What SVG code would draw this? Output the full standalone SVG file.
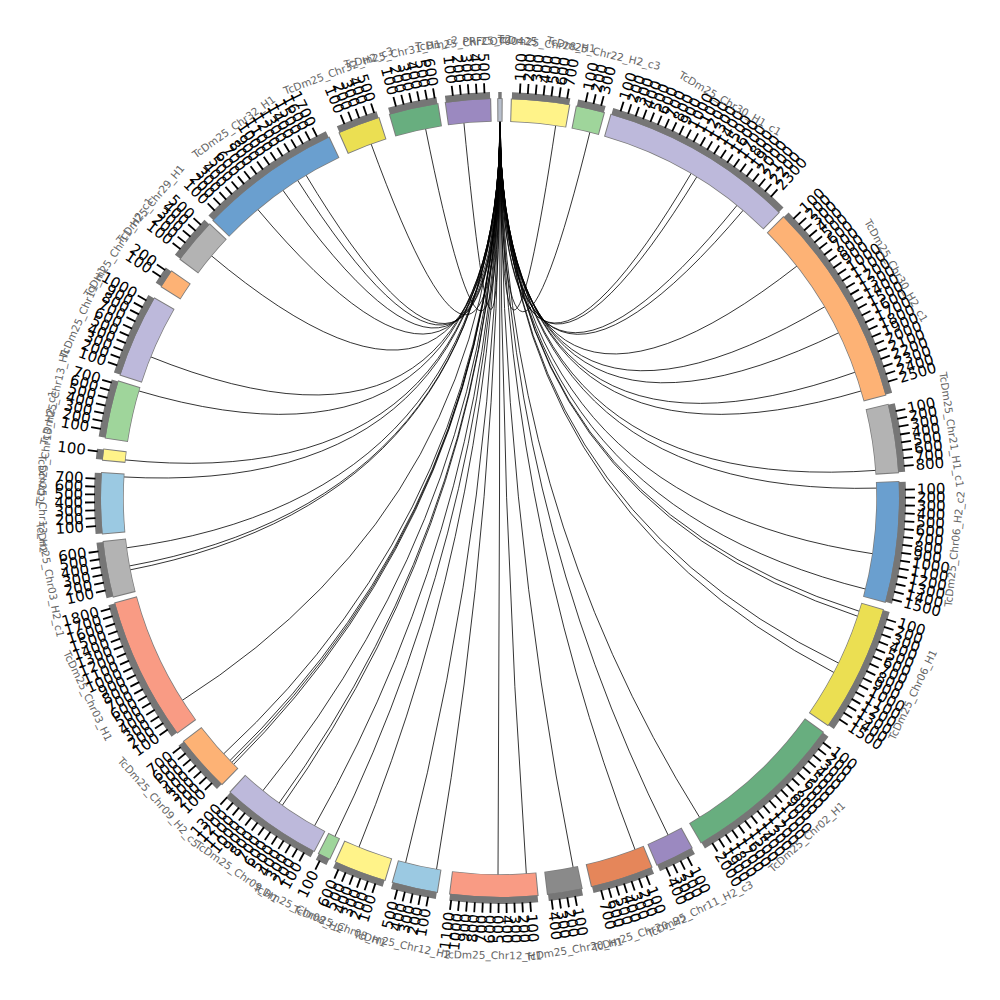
<svg xmlns="http://www.w3.org/2000/svg" xmlns:xlink="http://www.w3.org/1999/xlink" width="1000" height="1000" viewBox="0 0 1000 1000">
<defs>
<style>
circle{fill:none}
.o{stroke:#7d7d7d;stroke-width:23.5}
.c{stroke-width:22}
.b{stroke:#767676;stroke-width:7}
text.r,text.l{font-family:"DejaVu Sans","Liberation Sans",sans-serif;font-size:15px;fill:#000;dominant-baseline:central}
text.r{transform:translate(500px,81px) rotate(-90deg);text-anchor:start}
text.l{transform:translate(500px,81px) rotate(90deg);text-anchor:end}
.n{font-family:"DejaVu Sans","Liberation Sans",sans-serif;font-size:10.5px;fill:#666;text-anchor:middle;dominant-baseline:central}
#links path{fill:none;stroke:#000;stroke-width:.8}
</style>
<line id="t" x1="500" y1="93" x2="500" y2="83" stroke="#000" stroke-width="1.8"/>
</defs>
<rect width="1000" height="1000" fill="#fff"/>

<g id="links">
<path d="M500 120Q500 498 555.9 124.2" stroke="#4f7fa0"/>
<path d="M500 120Q500 498 590.2 130.9" stroke="#8a8a2a"/>
<path d="M500 120Q500 498 691.8 172.3"/>
<path d="M500 120Q500 498 697.5 175.7" stroke="#3a6a3a"/>
<path d="M500 120Q500 498 737.9 204.3"/>
<path d="M500 120Q500 498 744 209.3"/>
<path d="M500 120Q500 498 797.9 265.3"/>
<path d="M500 120Q500 498 825.7 306.2"/>
<path d="M500 120Q500 498 839.7 332.3" stroke="#4a5a70"/>
<path d="M500 120Q500 498 856.3 371.8"/>
<path d="M500 120Q500 498 862.4 390.6"/>
<path d="M500 120Q500 498 877 470.3" stroke="#7a4a2a"/>
<path d="M500 120Q500 498 877.9 488.1" stroke="#333"/>
<path d="M500 120Q500 498 873.8 553.9"/>
<path d="M500 120Q500 498 866.8 589.4" stroke="#3b5b8a"/>
<path d="M500 120Q500 498 860.5 611.7" stroke="#8b4a2b"/>
<path d="M500 120Q500 498 858.9 616.7" stroke="#7a7a20"/>
<path d="M500 120Q500 498 839.7 663.7"/>
<path d="M500 120Q500 498 835 673.1"/>
<path d="M500 120Q500 498 700.3 818.5" stroke="#4b3f8a"/>
<path d="M500 120Q500 498 668.7 836.3" stroke="#8b3a1a"/>
<path d="M500 120Q500 498 635.5 850.9" stroke="#6b6b2a"/>
<path d="M500 120Q500 498 573.4 868.8"/>
<path d="M500 120Q500 498 526.4 875.1" stroke="#2a3550"/>
<path d="M500 120Q500 498 498 876" stroke="#4a4a10"/>
<path d="M500 120Q500 498 436.3 870.6" stroke="#7a2a1a"/>
<path d="M500 120Q500 498 405.3 863.9"/>
<path d="M500 120Q500 498 358.4 848.5"/>
<path d="M500 120Q500 498 334.3 837.7" stroke="#2a4a7a"/>
<path d="M500 120Q500 498 313.9 827"/>
<path d="M500 120Q500 498 281.5 806.5"/>
<path d="M500 120Q500 498 278.3 804.2" stroke="#2a4a6a"/>
<path d="M500 120Q500 498 262.1 791.7"/>
<path d="M500 120Q500 498 232.7 765.3"/>
<path d="M500 120Q500 498 230.9 763.4" stroke="#1f3f3f"/>
<path d="M500 120Q500 498 229 761.5"/>
<path d="M500 120Q500 498 222.7 754.8"/>
<path d="M500 120Q500 498 181.2 701.1"/>
<path d="M500 120Q500 498 129 570.1"/>
<path d="M500 120Q500 498 128.2 566.2"/>
<path d="M500 120Q500 498 125.3 548"/>
<path d="M500 120Q500 498 122.6 476.9"/>
<path d="M500 120Q500 498 123.9 459.8"/>
<path d="M500 120Q500 498 137.6 390.6"/>
<path d="M500 120Q500 498 149.5 356.4"/>
<path d="M500 120Q500 498 210.5 255"/>
<path d="M500 120Q500 498 257 208.5" stroke="#5a5a20"/>
<path d="M500 120Q500 498 282.1 189.1"/>
<path d="M500 120Q500 498 296.9 179.2"/>
<path d="M500 120Q500 498 305.3 174"/>
<path d="M500 120Q500 498 370.7 142.8" stroke="#4a4a1a"/>
<path d="M500 120Q500 498 425.3 127.4"/>
<path d="M500 120Q500 498 463.8 121.7" stroke="#5a2a10"/>
</g>

<g id="n01">
<g transform="rotate(-90.25 500 498)"><circle class="o" cx="500" cy="498" r="388" pathLength="360" transform="rotate(-.15 500 498)" stroke-dasharray="0.8 400"/><circle class="c" cx="500" cy="498" r="388" pathLength="360" stroke="#b8bfcc" stroke-dasharray="0.5 400"/><circle class="b" cx="500" cy="498" r="402.5" pathLength="360" stroke-dasharray="0.5 400"/></g>
<text class="n" x="500" y="41">PRFCOT00425</text>
</g>

<g id="n02">
<g transform="rotate(-88.3 500 498)"><circle class="o" cx="500" cy="498" r="388" pathLength="360" transform="rotate(-.15 500 498)" stroke-dasharray="8.6 400"/><circle class="c" cx="500" cy="498" r="388" pathLength="360" stroke="#fff389" stroke-dasharray="8.3 400"/><circle class="b" cx="500" cy="498" r="402.5" pathLength="360" stroke-dasharray="8.3 400"/></g>
<g transform="rotate(2.82 500 498)"><use href="#t"/><text class="r">100</text></g>
<g transform="rotate(3.94 500 498)"><use href="#t"/><text class="r">200</text></g>
<g transform="rotate(5.06 500 498)"><use href="#t"/><text class="r">300</text></g>
<g transform="rotate(6.18 500 498)"><use href="#t"/><text class="r">400</text></g>
<g transform="rotate(7.30 500 498)"><use href="#t"/><text class="r">500</text></g>
<g transform="rotate(8.42 500 498)"><use href="#t"/><text class="r">600</text></g>
<g transform="rotate(9.54 500 498)"><use href="#t"/><text class="r">700</text></g>
<text class="n" x="500" y="41" transform="rotate(5.85 500 498)">TcDm25_Chr28_H1</text>
</g>

<g id="n03">
<g transform="rotate(-78.9 500 498)"><circle class="o" cx="500" cy="498" r="388" pathLength="360" transform="rotate(-.15 500 498)" stroke-dasharray="4.3 400"/><circle class="c" cx="500" cy="498" r="388" pathLength="360" stroke="#9fd59b" stroke-dasharray="4 400"/><circle class="b" cx="500" cy="498" r="402.5" pathLength="360" stroke-dasharray="4 400"/></g>
<g transform="rotate(12.22 500 498)"><use href="#t"/><text class="r">100</text></g>
<g transform="rotate(13.34 500 498)"><use href="#t"/><text class="r">200</text></g>
<g transform="rotate(14.46 500 498)"><use href="#t"/><text class="r">300</text></g>
<text class="n" x="500" y="41" transform="rotate(13.1 500 498)">TcDm25_Chr22_H2_c3</text>
</g>

<g id="n04">
<g transform="rotate(-73.8 500 498)"><circle class="o" cx="500" cy="498" r="388" pathLength="360" transform="rotate(-.15 500 498)" stroke-dasharray="28.4 400"/><circle class="c" cx="500" cy="498" r="388" pathLength="360" stroke="#bdb9db" stroke-dasharray="28.1 400"/><circle class="b" cx="500" cy="498" r="402.5" pathLength="360" stroke-dasharray="28.1 400"/></g>
<g transform="rotate(17.32 500 498)"><use href="#t"/><text class="r">100</text></g>
<g transform="rotate(18.44 500 498)"><use href="#t"/><text class="r">200</text></g>
<g transform="rotate(19.56 500 498)"><use href="#t"/><text class="r">300</text></g>
<g transform="rotate(20.68 500 498)"><use href="#t"/><text class="r">400</text></g>
<g transform="rotate(21.80 500 498)"><use href="#t"/><text class="r">500</text></g>
<g transform="rotate(22.92 500 498)"><use href="#t"/><text class="r">600</text></g>
<g transform="rotate(24.04 500 498)"><use href="#t"/><text class="r">700</text></g>
<g transform="rotate(25.16 500 498)"><use href="#t"/><text class="r">800</text></g>
<g transform="rotate(26.28 500 498)"><use href="#t"/><text class="r">900</text></g>
<g transform="rotate(27.40 500 498)"><use href="#t"/><text class="r">1000</text></g>
<g transform="rotate(28.52 500 498)"><use href="#t"/><text class="r">1100</text></g>
<g transform="rotate(29.64 500 498)"><use href="#t"/><text class="r">1200</text></g>
<g transform="rotate(30.76 500 498)"><use href="#t"/><text class="r">1300</text></g>
<g transform="rotate(31.88 500 498)"><use href="#t"/><text class="r">1400</text></g>
<g transform="rotate(33.00 500 498)"><use href="#t"/><text class="r">1500</text></g>
<g transform="rotate(34.12 500 498)"><use href="#t"/><text class="r">1600</text></g>
<g transform="rotate(35.24 500 498)"><use href="#t"/><text class="r">1700</text></g>
<g transform="rotate(36.36 500 498)"><use href="#t"/><text class="r">1800</text></g>
<g transform="rotate(37.48 500 498)"><use href="#t"/><text class="r">1900</text></g>
<g transform="rotate(38.60 500 498)"><use href="#t"/><text class="r">2000</text></g>
<g transform="rotate(39.72 500 498)"><use href="#t"/><text class="r">2100</text></g>
<g transform="rotate(40.84 500 498)"><use href="#t"/><text class="r">2200</text></g>
<g transform="rotate(41.96 500 498)"><use href="#t"/><text class="r">2300</text></g>
<text class="n" x="500" y="41" transform="rotate(30.25 500 498)">TcDm25_Chr30_H1_c1</text>
</g>

<g id="n05">
<g transform="rotate(-44.7 500 498)"><circle class="o" cx="500" cy="498" r="388" pathLength="360" transform="rotate(-.15 500 498)" stroke-dasharray="30 400"/><circle class="c" cx="500" cy="498" r="388" pathLength="360" stroke="#fdb275" stroke-dasharray="29.7 400"/><circle class="b" cx="500" cy="498" r="402.5" pathLength="360" stroke-dasharray="29.7 400"/></g>
<g transform="rotate(46.42 500 498)"><use href="#t"/><text class="r">100</text></g>
<g transform="rotate(47.54 500 498)"><use href="#t"/><text class="r">200</text></g>
<g transform="rotate(48.66 500 498)"><use href="#t"/><text class="r">300</text></g>
<g transform="rotate(49.78 500 498)"><use href="#t"/><text class="r">400</text></g>
<g transform="rotate(50.90 500 498)"><use href="#t"/><text class="r">500</text></g>
<g transform="rotate(52.02 500 498)"><use href="#t"/><text class="r">600</text></g>
<g transform="rotate(53.14 500 498)"><use href="#t"/><text class="r">700</text></g>
<g transform="rotate(54.26 500 498)"><use href="#t"/><text class="r">800</text></g>
<g transform="rotate(55.38 500 498)"><use href="#t"/><text class="r">900</text></g>
<g transform="rotate(56.50 500 498)"><use href="#t"/><text class="r">1000</text></g>
<g transform="rotate(57.62 500 498)"><use href="#t"/><text class="r">1100</text></g>
<g transform="rotate(58.74 500 498)"><use href="#t"/><text class="r">1200</text></g>
<g transform="rotate(59.86 500 498)"><use href="#t"/><text class="r">1300</text></g>
<g transform="rotate(60.98 500 498)"><use href="#t"/><text class="r">1400</text></g>
<g transform="rotate(62.10 500 498)"><use href="#t"/><text class="r">1500</text></g>
<g transform="rotate(63.22 500 498)"><use href="#t"/><text class="r">1600</text></g>
<g transform="rotate(64.34 500 498)"><use href="#t"/><text class="r">1700</text></g>
<g transform="rotate(65.46 500 498)"><use href="#t"/><text class="r">1800</text></g>
<g transform="rotate(66.58 500 498)"><use href="#t"/><text class="r">1900</text></g>
<g transform="rotate(67.70 500 498)"><use href="#t"/><text class="r">2000</text></g>
<g transform="rotate(68.82 500 498)"><use href="#t"/><text class="r">2100</text></g>
<g transform="rotate(69.94 500 498)"><use href="#t"/><text class="r">2200</text></g>
<g transform="rotate(71.06 500 498)"><use href="#t"/><text class="r">2300</text></g>
<g transform="rotate(72.18 500 498)"><use href="#t"/><text class="r">2400</text></g>
<g transform="rotate(73.30 500 498)"><use href="#t"/><text class="r">2500</text></g>
<text class="n" x="500" y="41" transform="rotate(60.15 500 498)">TcDm25_Chr30_H2_c1</text>
</g>

<g id="n06">
<g transform="rotate(-13.5 500 498)"><circle class="o" cx="500" cy="498" r="388" pathLength="360" transform="rotate(-.15 500 498)" stroke-dasharray="10.1 400"/><circle class="c" cx="500" cy="498" r="388" pathLength="360" stroke="#b3b3b3" stroke-dasharray="9.8 400"/><circle class="b" cx="500" cy="498" r="402.5" pathLength="360" stroke-dasharray="9.8 400"/></g>
<g transform="rotate(77.62 500 498)"><use href="#t"/><text class="r">100</text></g>
<g transform="rotate(78.74 500 498)"><use href="#t"/><text class="r">200</text></g>
<g transform="rotate(79.86 500 498)"><use href="#t"/><text class="r">300</text></g>
<g transform="rotate(80.98 500 498)"><use href="#t"/><text class="r">400</text></g>
<g transform="rotate(82.10 500 498)"><use href="#t"/><text class="r">500</text></g>
<g transform="rotate(83.22 500 498)"><use href="#t"/><text class="r">600</text></g>
<g transform="rotate(84.34 500 498)"><use href="#t"/><text class="r">700</text></g>
<g transform="rotate(85.46 500 498)"><use href="#t"/><text class="r">800</text></g>
<text class="n" x="500" y="41" transform="rotate(81.4 500 498)">TcDm25_Chr21_H1_c1</text>
</g>

<g id="n07">
<g transform="rotate(-2.3 500 498)"><circle class="o" cx="500" cy="498" r="388" pathLength="360" transform="rotate(-.15 500 498)" stroke-dasharray="17.7 400"/><circle class="c" cx="500" cy="498" r="388" pathLength="360" stroke="#6a9fcf" stroke-dasharray="17.4 400"/><circle class="b" cx="500" cy="498" r="402.5" pathLength="360" stroke-dasharray="17.4 400"/></g>
<g transform="rotate(88.82 500 498)"><use href="#t"/><text class="r">100</text></g>
<g transform="rotate(89.94 500 498)"><use href="#t"/><text class="r">200</text></g>
<g transform="rotate(91.06 500 498)"><use href="#t"/><text class="r">300</text></g>
<g transform="rotate(92.18 500 498)"><use href="#t"/><text class="r">400</text></g>
<g transform="rotate(93.30 500 498)"><use href="#t"/><text class="r">500</text></g>
<g transform="rotate(94.42 500 498)"><use href="#t"/><text class="r">600</text></g>
<g transform="rotate(95.54 500 498)"><use href="#t"/><text class="r">700</text></g>
<g transform="rotate(96.66 500 498)"><use href="#t"/><text class="r">800</text></g>
<g transform="rotate(97.78 500 498)"><use href="#t"/><text class="r">900</text></g>
<g transform="rotate(98.90 500 498)"><use href="#t"/><text class="r">1000</text></g>
<g transform="rotate(100.02 500 498)"><use href="#t"/><text class="r">1100</text></g>
<g transform="rotate(101.14 500 498)"><use href="#t"/><text class="r">1200</text></g>
<g transform="rotate(102.26 500 498)"><use href="#t"/><text class="r">1300</text></g>
<g transform="rotate(103.38 500 498)"><use href="#t"/><text class="r">1400</text></g>
<g transform="rotate(104.50 500 498)"><use href="#t"/><text class="r">1500</text></g>
<text class="n" x="500" y="955" transform="rotate(-83.6 500 498)">TcDm25_Chr06_H2_c2</text>
</g>

<g id="n08">
<g transform="rotate(16.3 500 498)"><circle class="o" cx="500" cy="498" r="388" pathLength="360" transform="rotate(-.15 500 498)" stroke-dasharray="18.7 400"/><circle class="c" cx="500" cy="498" r="388" pathLength="360" stroke="#ebdf52" stroke-dasharray="18.4 400"/><circle class="b" cx="500" cy="498" r="402.5" pathLength="360" stroke-dasharray="18.4 400"/></g>
<g transform="rotate(107.42 500 498)"><use href="#t"/><text class="r">100</text></g>
<g transform="rotate(108.54 500 498)"><use href="#t"/><text class="r">200</text></g>
<g transform="rotate(109.66 500 498)"><use href="#t"/><text class="r">300</text></g>
<g transform="rotate(110.78 500 498)"><use href="#t"/><text class="r">400</text></g>
<g transform="rotate(111.90 500 498)"><use href="#t"/><text class="r">500</text></g>
<g transform="rotate(113.02 500 498)"><use href="#t"/><text class="r">600</text></g>
<g transform="rotate(114.14 500 498)"><use href="#t"/><text class="r">700</text></g>
<g transform="rotate(115.26 500 498)"><use href="#t"/><text class="r">800</text></g>
<g transform="rotate(116.38 500 498)"><use href="#t"/><text class="r">900</text></g>
<g transform="rotate(117.50 500 498)"><use href="#t"/><text class="r">1000</text></g>
<g transform="rotate(118.62 500 498)"><use href="#t"/><text class="r">1100</text></g>
<g transform="rotate(119.74 500 498)"><use href="#t"/><text class="r">1200</text></g>
<g transform="rotate(120.86 500 498)"><use href="#t"/><text class="r">1300</text></g>
<g transform="rotate(121.98 500 498)"><use href="#t"/><text class="r">1400</text></g>
<g transform="rotate(123.10 500 498)"><use href="#t"/><text class="r">1500</text></g>
<text class="n" x="500" y="955" transform="rotate(-64.5 500 498)">TcDm25_Chr06_H1</text>
</g>

<g id="n09">
<g transform="rotate(36 500 498)"><circle class="o" cx="500" cy="498" r="388" pathLength="360" transform="rotate(-.15 500 498)" stroke-dasharray="24 400"/><circle class="c" cx="500" cy="498" r="388" pathLength="360" stroke="#68ae7f" stroke-dasharray="23.7 400"/><circle class="b" cx="500" cy="498" r="402.5" pathLength="360" stroke-dasharray="23.7 400"/></g>
<g transform="rotate(127.12 500 498)"><use href="#t"/><text class="r">100</text></g>
<g transform="rotate(128.24 500 498)"><use href="#t"/><text class="r">200</text></g>
<g transform="rotate(129.36 500 498)"><use href="#t"/><text class="r">300</text></g>
<g transform="rotate(130.48 500 498)"><use href="#t"/><text class="r">400</text></g>
<g transform="rotate(131.60 500 498)"><use href="#t"/><text class="r">500</text></g>
<g transform="rotate(132.72 500 498)"><use href="#t"/><text class="r">600</text></g>
<g transform="rotate(133.84 500 498)"><use href="#t"/><text class="r">700</text></g>
<g transform="rotate(134.96 500 498)"><use href="#t"/><text class="r">800</text></g>
<g transform="rotate(136.08 500 498)"><use href="#t"/><text class="r">900</text></g>
<g transform="rotate(137.20 500 498)"><use href="#t"/><text class="r">1000</text></g>
<g transform="rotate(138.32 500 498)"><use href="#t"/><text class="r">1100</text></g>
<g transform="rotate(139.44 500 498)"><use href="#t"/><text class="r">1200</text></g>
<g transform="rotate(140.56 500 498)"><use href="#t"/><text class="r">1300</text></g>
<g transform="rotate(141.68 500 498)"><use href="#t"/><text class="r">1400</text></g>
<g transform="rotate(142.80 500 498)"><use href="#t"/><text class="r">1500</text></g>
<g transform="rotate(143.92 500 498)"><use href="#t"/><text class="r">1600</text></g>
<g transform="rotate(145.04 500 498)"><use href="#t"/><text class="r">1700</text></g>
<g transform="rotate(146.16 500 498)"><use href="#t"/><text class="r">1800</text></g>
<g transform="rotate(147.28 500 498)"><use href="#t"/><text class="r">1900</text></g>
<g transform="rotate(148.40 500 498)"><use href="#t"/><text class="r">2000</text></g>
<text class="n" x="500" y="955" transform="rotate(-42.15 500 498)">TcDm25_Chr02_H1</text>
</g>

<g id="n10">
<g transform="rotate(61.3 500 498)"><circle class="o" cx="500" cy="498" r="388" pathLength="360" transform="rotate(-.15 500 498)" stroke-dasharray="5.8 400"/><circle class="c" cx="500" cy="498" r="388" pathLength="360" stroke="#9b89c0" stroke-dasharray="5.5 400"/><circle class="b" cx="500" cy="498" r="402.5" pathLength="360" stroke-dasharray="5.5 400"/></g>
<g transform="rotate(152.42 500 498)"><use href="#t"/><text class="r">100</text></g>
<g transform="rotate(153.54 500 498)"><use href="#t"/><text class="r">200</text></g>
<g transform="rotate(154.66 500 498)"><use href="#t"/><text class="r">300</text></g>
<g transform="rotate(155.78 500 498)"><use href="#t"/><text class="r">400</text></g>
<text class="n" x="500" y="955" transform="rotate(-25.95 500 498)">TcDm25_Chr11_H2_c3</text>
</g>

<g id="n11">
<g transform="rotate(67.7 500 498)"><circle class="o" cx="500" cy="498" r="388" pathLength="360" transform="rotate(-.15 500 498)" stroke-dasharray="9.3 400"/><circle class="c" cx="500" cy="498" r="388" pathLength="360" stroke="#e5865a" stroke-dasharray="9 400"/><circle class="b" cx="500" cy="498" r="402.5" pathLength="360" stroke-dasharray="9 400"/></g>
<g transform="rotate(158.82 500 498)"><use href="#t"/><text class="r">100</text></g>
<g transform="rotate(159.94 500 498)"><use href="#t"/><text class="r">200</text></g>
<g transform="rotate(161.06 500 498)"><use href="#t"/><text class="r">300</text></g>
<g transform="rotate(162.18 500 498)"><use href="#t"/><text class="r">400</text></g>
<g transform="rotate(163.30 500 498)"><use href="#t"/><text class="r">500</text></g>
<g transform="rotate(164.42 500 498)"><use href="#t"/><text class="r">600</text></g>
<g transform="rotate(165.54 500 498)"><use href="#t"/><text class="r">700</text></g>
<text class="n" x="500" y="955" transform="rotate(-17.8 500 498)">TcDm25_Chr20_H2</text>
</g>

<g id="n12">
<g transform="rotate(78.2 500 498)"><circle class="o" cx="500" cy="498" r="388" pathLength="360" transform="rotate(-.15 500 498)" stroke-dasharray="5.2 400"/><circle class="c" cx="500" cy="498" r="388" pathLength="360" stroke="#8a8a8a" stroke-dasharray="4.9 400"/><circle class="b" cx="500" cy="498" r="402.5" pathLength="360" stroke-dasharray="4.9 400"/></g>
<g transform="rotate(169.32 500 498)"><use href="#t"/><text class="r">100</text></g>
<g transform="rotate(170.44 500 498)"><use href="#t"/><text class="r">200</text></g>
<g transform="rotate(171.56 500 498)"><use href="#t"/><text class="r">300</text></g>
<g transform="rotate(172.68 500 498)"><use href="#t"/><text class="r">400</text></g>
<text class="n" x="500" y="955" transform="rotate(-9.35 500 498)">TcDm25_Chr20_H1</text>
</g>

<g id="n13">
<g transform="rotate(84.6 500 498)"><circle class="o" cx="500" cy="498" r="388" pathLength="360" transform="rotate(-.15 500 498)" stroke-dasharray="12.9 400"/><circle class="c" cx="500" cy="498" r="388" pathLength="360" stroke="#f99b84" stroke-dasharray="12.6 400"/><circle class="b" cx="500" cy="498" r="402.5" pathLength="360" stroke-dasharray="12.6 400"/></g>
<g transform="rotate(175.72 500 498)"><use href="#t"/><text class="r">100</text></g>
<g transform="rotate(176.84 500 498)"><use href="#t"/><text class="r">200</text></g>
<g transform="rotate(177.96 500 498)"><use href="#t"/><text class="r">300</text></g>
<g transform="rotate(179.08 500 498)"><use href="#t"/><text class="r">400</text></g>
<g transform="rotate(180.20 500 498)"><use href="#t"/><text class="l">500</text></g>
<g transform="rotate(181.32 500 498)"><use href="#t"/><text class="l">600</text></g>
<g transform="rotate(182.44 500 498)"><use href="#t"/><text class="l">700</text></g>
<g transform="rotate(183.56 500 498)"><use href="#t"/><text class="l">800</text></g>
<g transform="rotate(184.68 500 498)"><use href="#t"/><text class="l">900</text></g>
<g transform="rotate(185.80 500 498)"><use href="#t"/><text class="l">1000</text></g>
<g transform="rotate(186.92 500 498)"><use href="#t"/><text class="l">1100</text></g>
<text class="n" x="500" y="955" transform="rotate(0.9 500 498)">TcDm25_Chr12_H1</text>
</g>

<g id="n14">
<g transform="rotate(99.1 500 498)"><circle class="o" cx="500" cy="498" r="388" pathLength="360" transform="rotate(-.15 500 498)" stroke-dasharray="6.8 400"/><circle class="c" cx="500" cy="498" r="388" pathLength="360" stroke="#9bc9e2" stroke-dasharray="6.5 400"/><circle class="b" cx="500" cy="498" r="402.5" pathLength="360" stroke-dasharray="6.5 400"/></g>
<g transform="rotate(190.22 500 498)"><use href="#t"/><text class="l">100</text></g>
<g transform="rotate(191.34 500 498)"><use href="#t"/><text class="l">200</text></g>
<g transform="rotate(192.46 500 498)"><use href="#t"/><text class="l">300</text></g>
<g transform="rotate(193.58 500 498)"><use href="#t"/><text class="l">400</text></g>
<g transform="rotate(194.70 500 498)"><use href="#t"/><text class="l">500</text></g>
<text class="n" x="500" y="955" transform="rotate(12.35 500 498)">TcDm25_Chr12_H2</text>
</g>

<g id="n15">
<g transform="rotate(106.8 500 498)"><circle class="o" cx="500" cy="498" r="388" pathLength="360" transform="rotate(-.15 500 498)" stroke-dasharray="7.8 400"/><circle class="c" cx="500" cy="498" r="388" pathLength="360" stroke="#fff389" stroke-dasharray="7.5 400"/><circle class="b" cx="500" cy="498" r="402.5" pathLength="360" stroke-dasharray="7.5 400"/></g>
<g transform="rotate(197.92 500 498)"><use href="#t"/><text class="l">100</text></g>
<g transform="rotate(199.04 500 498)"><use href="#t"/><text class="l">200</text></g>
<g transform="rotate(200.16 500 498)"><use href="#t"/><text class="l">300</text></g>
<g transform="rotate(201.28 500 498)"><use href="#t"/><text class="l">400</text></g>
<g transform="rotate(202.40 500 498)"><use href="#t"/><text class="l">500</text></g>
<g transform="rotate(203.52 500 498)"><use href="#t"/><text class="l">600</text></g>
<text class="n" x="500" y="955" transform="rotate(20.55 500 498)">TcDm25_Chr08_H1</text>
</g>

<g id="n16">
<g transform="rotate(115.3 500 498)"><circle class="o" cx="500" cy="498" r="388" pathLength="360" transform="rotate(-.15 500 498)" stroke-dasharray="2 400"/><circle class="c" cx="500" cy="498" r="388" pathLength="360" stroke="#9fd59b" stroke-dasharray="1.7 400"/><circle class="b" cx="500" cy="498" r="402.5" pathLength="360" stroke-dasharray="1.7 400"/></g>
<g transform="rotate(206.42 500 498)"><use href="#t"/><text class="l">100</text></g>
<text class="n" x="500" y="955" transform="rotate(26.15 500 498)">TcDm25_Chr08_H2</text>
</g>

<g id="n17">
<g transform="rotate(117.8 500 498)"><circle class="o" cx="500" cy="498" r="388" pathLength="360" transform="rotate(-.15 500 498)" stroke-dasharray="15 400"/><circle class="c" cx="500" cy="498" r="388" pathLength="360" stroke="#bdb9db" stroke-dasharray="14.7 400"/><circle class="b" cx="500" cy="498" r="402.5" pathLength="360" stroke-dasharray="14.7 400"/></g>
<g transform="rotate(208.92 500 498)"><use href="#t"/><text class="l">100</text></g>
<g transform="rotate(210.04 500 498)"><use href="#t"/><text class="l">200</text></g>
<g transform="rotate(211.16 500 498)"><use href="#t"/><text class="l">300</text></g>
<g transform="rotate(212.28 500 498)"><use href="#t"/><text class="l">400</text></g>
<g transform="rotate(213.40 500 498)"><use href="#t"/><text class="l">500</text></g>
<g transform="rotate(214.52 500 498)"><use href="#t"/><text class="l">600</text></g>
<g transform="rotate(215.64 500 498)"><use href="#t"/><text class="l">700</text></g>
<g transform="rotate(216.76 500 498)"><use href="#t"/><text class="l">800</text></g>
<g transform="rotate(217.88 500 498)"><use href="#t"/><text class="l">900</text></g>
<g transform="rotate(219.00 500 498)"><use href="#t"/><text class="l">1000</text></g>
<g transform="rotate(220.12 500 498)"><use href="#t"/><text class="l">1100</text></g>
<g transform="rotate(221.24 500 498)"><use href="#t"/><text class="l">1200</text></g>
<g transform="rotate(222.36 500 498)"><use href="#t"/><text class="l">1300</text></g>
<text class="n" x="500" y="955" transform="rotate(35.15 500 498)">TcDm25_Chr09_H1</text>
</g>

<g id="n18">
<g transform="rotate(134.2 500 498)"><circle class="o" cx="500" cy="498" r="388" pathLength="360" transform="rotate(-.15 500 498)" stroke-dasharray="8.5 400"/><circle class="c" cx="500" cy="498" r="388" pathLength="360" stroke="#fdb275" stroke-dasharray="8.2 400"/><circle class="b" cx="500" cy="498" r="402.5" pathLength="360" stroke-dasharray="8.2 400"/></g>
<g transform="rotate(225.32 500 498)"><use href="#t"/><text class="l">100</text></g>
<g transform="rotate(226.44 500 498)"><use href="#t"/><text class="l">200</text></g>
<g transform="rotate(227.56 500 498)"><use href="#t"/><text class="l">300</text></g>
<g transform="rotate(228.68 500 498)"><use href="#t"/><text class="l">400</text></g>
<g transform="rotate(229.80 500 498)"><use href="#t"/><text class="l">500</text></g>
<g transform="rotate(230.92 500 498)"><use href="#t"/><text class="l">600</text></g>
<g transform="rotate(232.04 500 498)"><use href="#t"/><text class="l">700</text></g>
<text class="n" x="500" y="955" transform="rotate(48.3 500 498)">TcDm25_Chr09_H2_c5</text>
</g>

<g id="n19">
<g transform="rotate(144 500 498)"><circle class="o" cx="500" cy="498" r="388" pathLength="360" transform="rotate(-.15 500 498)" stroke-dasharray="21 400"/><circle class="c" cx="500" cy="498" r="388" pathLength="360" stroke="#f99b84" stroke-dasharray="20.7 400"/><circle class="b" cx="500" cy="498" r="402.5" pathLength="360" stroke-dasharray="20.7 400"/></g>
<g transform="rotate(235.12 500 498)"><use href="#t"/><text class="l">100</text></g>
<g transform="rotate(236.24 500 498)"><use href="#t"/><text class="l">200</text></g>
<g transform="rotate(237.36 500 498)"><use href="#t"/><text class="l">300</text></g>
<g transform="rotate(238.48 500 498)"><use href="#t"/><text class="l">400</text></g>
<g transform="rotate(239.60 500 498)"><use href="#t"/><text class="l">500</text></g>
<g transform="rotate(240.72 500 498)"><use href="#t"/><text class="l">600</text></g>
<g transform="rotate(241.84 500 498)"><use href="#t"/><text class="l">700</text></g>
<g transform="rotate(242.96 500 498)"><use href="#t"/><text class="l">800</text></g>
<g transform="rotate(244.08 500 498)"><use href="#t"/><text class="l">900</text></g>
<g transform="rotate(245.20 500 498)"><use href="#t"/><text class="l">1000</text></g>
<g transform="rotate(246.32 500 498)"><use href="#t"/><text class="l">1100</text></g>
<g transform="rotate(247.44 500 498)"><use href="#t"/><text class="l">1200</text></g>
<g transform="rotate(248.56 500 498)"><use href="#t"/><text class="l">1300</text></g>
<g transform="rotate(249.68 500 498)"><use href="#t"/><text class="l">1400</text></g>
<g transform="rotate(250.80 500 498)"><use href="#t"/><text class="l">1500</text></g>
<g transform="rotate(251.92 500 498)"><use href="#t"/><text class="l">1600</text></g>
<g transform="rotate(253.04 500 498)"><use href="#t"/><text class="l">1700</text></g>
<g transform="rotate(254.16 500 498)"><use href="#t"/><text class="l">1800</text></g>
<text class="n" x="500" y="955" transform="rotate(64.35 500 498)">TcDm25_Chr03_H1</text>
</g>

<g id="n20">
<g transform="rotate(165.7 500 498)"><circle class="o" cx="500" cy="498" r="388" pathLength="360" transform="rotate(-.15 500 498)" stroke-dasharray="8.3 400"/><circle class="c" cx="500" cy="498" r="388" pathLength="360" stroke="#b3b3b3" stroke-dasharray="8 400"/><circle class="b" cx="500" cy="498" r="402.5" pathLength="360" stroke-dasharray="8 400"/></g>
<g transform="rotate(256.82 500 498)"><use href="#t"/><text class="l">100</text></g>
<g transform="rotate(257.94 500 498)"><use href="#t"/><text class="l">200</text></g>
<g transform="rotate(259.06 500 498)"><use href="#t"/><text class="l">300</text></g>
<g transform="rotate(260.18 500 498)"><use href="#t"/><text class="l">400</text></g>
<g transform="rotate(261.30 500 498)"><use href="#t"/><text class="l">500</text></g>
<g transform="rotate(262.42 500 498)"><use href="#t"/><text class="l">600</text></g>
<text class="n" x="500" y="955" transform="rotate(79.7 500 498)">TcDm25_Chr03_H2_c1</text>
</g>

<g id="n21">
<g transform="rotate(174.9 500 498)"><circle class="o" cx="500" cy="498" r="388" pathLength="360" transform="rotate(-.15 500 498)" stroke-dasharray="9 400"/><circle class="c" cx="500" cy="498" r="388" pathLength="360" stroke="#9bc9e2" stroke-dasharray="8.7 400"/><circle class="b" cx="500" cy="498" r="402.5" pathLength="360" stroke-dasharray="8.7 400"/></g>
<g transform="rotate(266.02 500 498)"><use href="#t"/><text class="l">100</text></g>
<g transform="rotate(267.14 500 498)"><use href="#t"/><text class="l">200</text></g>
<g transform="rotate(268.26 500 498)"><use href="#t"/><text class="l">300</text></g>
<g transform="rotate(269.38 500 498)"><use href="#t"/><text class="l">400</text></g>
<g transform="rotate(270.50 500 498)"><use href="#t"/><text class="l">500</text></g>
<g transform="rotate(271.62 500 498)"><use href="#t"/><text class="l">600</text></g>
<g transform="rotate(272.74 500 498)"><use href="#t"/><text class="l">700</text></g>
<text class="n" x="500" y="955" transform="rotate(89.25 500 498)">TcDm25_Chr13_H2</text>
</g>

<g id="n22">
<g transform="rotate(185.5 500 498)"><circle class="o" cx="500" cy="498" r="388" pathLength="360" transform="rotate(-.15 500 498)" stroke-dasharray="1.8 400"/><circle class="c" cx="500" cy="498" r="388" pathLength="360" stroke="#fff389" stroke-dasharray="1.5 400"/><circle class="b" cx="500" cy="498" r="402.5" pathLength="360" stroke-dasharray="1.5 400"/></g>
<g transform="rotate(276.62 500 498)"><use href="#t"/><text class="l">100</text></g>
<text class="n" x="500" y="41" transform="rotate(276.25 500 498)">TcDm25_Chr13_H2_c1</text>
</g>

<g id="n23">
<g transform="rotate(188.7 500 498)"><circle class="o" cx="500" cy="498" r="388" pathLength="360" transform="rotate(-.15 500 498)" stroke-dasharray="8.6 400"/><circle class="c" cx="500" cy="498" r="388" pathLength="360" stroke="#9fd59b" stroke-dasharray="8.3 400"/><circle class="b" cx="500" cy="498" r="402.5" pathLength="360" stroke-dasharray="8.3 400"/></g>
<g transform="rotate(279.82 500 498)"><use href="#t"/><text class="l">100</text></g>
<g transform="rotate(280.94 500 498)"><use href="#t"/><text class="l">200</text></g>
<g transform="rotate(282.06 500 498)"><use href="#t"/><text class="l">300</text></g>
<g transform="rotate(283.18 500 498)"><use href="#t"/><text class="l">400</text></g>
<g transform="rotate(284.30 500 498)"><use href="#t"/><text class="l">500</text></g>
<g transform="rotate(285.42 500 498)"><use href="#t"/><text class="l">600</text></g>
<g transform="rotate(286.54 500 498)"><use href="#t"/><text class="l">700</text></g>
<text class="n" x="500" y="41" transform="rotate(282.85 500 498)">TcDm25_Chr13_H1</text>
</g>

<g id="n24">
<g transform="rotate(198 500 498)"><circle class="o" cx="500" cy="498" r="388" pathLength="360" transform="rotate(-.15 500 498)" stroke-dasharray="12.3 400"/><circle class="c" cx="500" cy="498" r="388" pathLength="360" stroke="#bdb9db" stroke-dasharray="12 400"/><circle class="b" cx="500" cy="498" r="402.5" pathLength="360" stroke-dasharray="12 400"/></g>
<g transform="rotate(289.12 500 498)"><use href="#t"/><text class="l">100</text></g>
<g transform="rotate(290.24 500 498)"><use href="#t"/><text class="l">200</text></g>
<g transform="rotate(291.36 500 498)"><use href="#t"/><text class="l">300</text></g>
<g transform="rotate(292.48 500 498)"><use href="#t"/><text class="l">400</text></g>
<g transform="rotate(293.60 500 498)"><use href="#t"/><text class="l">500</text></g>
<g transform="rotate(294.72 500 498)"><use href="#t"/><text class="l">600</text></g>
<g transform="rotate(295.84 500 498)"><use href="#t"/><text class="l">700</text></g>
<g transform="rotate(296.96 500 498)"><use href="#t"/><text class="l">800</text></g>
<g transform="rotate(298.08 500 498)"><use href="#t"/><text class="l">900</text></g>
<g transform="rotate(299.20 500 498)"><use href="#t"/><text class="l">1000</text></g>
<text class="n" x="500" y="41" transform="rotate(294 500 498)">TcDm25_Chr11_H1</text>
</g>

<g id="n25">
<g transform="rotate(212 500 498)"><circle class="o" cx="500" cy="498" r="388" pathLength="360" transform="rotate(-.15 500 498)" stroke-dasharray="2.9 400"/><circle class="c" cx="500" cy="498" r="388" pathLength="360" stroke="#fdb275" stroke-dasharray="2.6 400"/><circle class="b" cx="500" cy="498" r="402.5" pathLength="360" stroke-dasharray="2.6 400"/></g>
<g transform="rotate(303.12 500 498)"><use href="#t"/><text class="l">100</text></g>
<g transform="rotate(304.24 500 498)"><use href="#t"/><text class="l">200</text></g>
<text class="n" x="500" y="41" transform="rotate(303.3 500 498)">TcDm25_Chr11_H2_c1</text>
</g>

<g id="n26">
<g transform="rotate(216.8 500 498)"><circle class="o" cx="500" cy="498" r="388" pathLength="360" transform="rotate(-.15 500 498)" stroke-dasharray="6.8 400"/><circle class="c" cx="500" cy="498" r="388" pathLength="360" stroke="#b3b3b3" stroke-dasharray="6.5 400"/><circle class="b" cx="500" cy="498" r="402.5" pathLength="360" stroke-dasharray="6.5 400"/></g>
<g transform="rotate(307.92 500 498)"><use href="#t"/><text class="l">100</text></g>
<g transform="rotate(309.04 500 498)"><use href="#t"/><text class="l">200</text></g>
<g transform="rotate(310.16 500 498)"><use href="#t"/><text class="l">300</text></g>
<g transform="rotate(311.28 500 498)"><use href="#t"/><text class="l">400</text></g>
<g transform="rotate(312.40 500 498)"><use href="#t"/><text class="l">500</text></g>
<text class="n" x="500" y="41" transform="rotate(310.05 500 498)">TcDm25_Chr29_H1</text>
</g>

<g id="n27">
<g transform="rotate(224.1 500 498)"><circle class="o" cx="500" cy="498" r="388" pathLength="360" transform="rotate(-.15 500 498)" stroke-dasharray="20.8 400"/><circle class="c" cx="500" cy="498" r="388" pathLength="360" stroke="#6a9fcf" stroke-dasharray="20.5 400"/><circle class="b" cx="500" cy="498" r="402.5" pathLength="360" stroke-dasharray="20.5 400"/></g>
<g transform="rotate(315.22 500 498)"><use href="#t"/><text class="l">100</text></g>
<g transform="rotate(316.34 500 498)"><use href="#t"/><text class="l">200</text></g>
<g transform="rotate(317.46 500 498)"><use href="#t"/><text class="l">300</text></g>
<g transform="rotate(318.58 500 498)"><use href="#t"/><text class="l">400</text></g>
<g transform="rotate(319.70 500 498)"><use href="#t"/><text class="l">500</text></g>
<g transform="rotate(320.82 500 498)"><use href="#t"/><text class="l">600</text></g>
<g transform="rotate(321.94 500 498)"><use href="#t"/><text class="l">700</text></g>
<g transform="rotate(323.06 500 498)"><use href="#t"/><text class="l">800</text></g>
<g transform="rotate(324.18 500 498)"><use href="#t"/><text class="l">900</text></g>
<g transform="rotate(325.30 500 498)"><use href="#t"/><text class="l">1000</text></g>
<g transform="rotate(326.42 500 498)"><use href="#t"/><text class="l">1100</text></g>
<g transform="rotate(327.54 500 498)"><use href="#t"/><text class="l">1200</text></g>
<g transform="rotate(328.66 500 498)"><use href="#t"/><text class="l">1300</text></g>
<g transform="rotate(329.78 500 498)"><use href="#t"/><text class="l">1400</text></g>
<g transform="rotate(330.90 500 498)"><use href="#t"/><text class="l">1500</text></g>
<g transform="rotate(332.02 500 498)"><use href="#t"/><text class="l">1600</text></g>
<g transform="rotate(333.14 500 498)"><use href="#t"/><text class="l">1700</text></g>
<text class="n" x="500" y="41" transform="rotate(324.35 500 498)">TcDm25_Chr32_H1</text>
</g>

<g id="n28">
<g transform="rotate(246.3 500 498)"><circle class="o" cx="500" cy="498" r="388" pathLength="360" transform="rotate(-.15 500 498)" stroke-dasharray="6.3 400"/><circle class="c" cx="500" cy="498" r="388" pathLength="360" stroke="#ebdf52" stroke-dasharray="6 400"/><circle class="b" cx="500" cy="498" r="402.5" pathLength="360" stroke-dasharray="6 400"/></g>
<g transform="rotate(337.42 500 498)"><use href="#t"/><text class="l">100</text></g>
<g transform="rotate(338.54 500 498)"><use href="#t"/><text class="l">200</text></g>
<g transform="rotate(339.66 500 498)"><use href="#t"/><text class="l">300</text></g>
<g transform="rotate(340.78 500 498)"><use href="#t"/><text class="l">400</text></g>
<g transform="rotate(341.90 500 498)"><use href="#t"/><text class="l">500</text></g>
<text class="n" x="500" y="41" transform="rotate(339.3 500 498)">TcDm25_Chr32_H2_c3</text>
</g>

<g id="n29">
<g transform="rotate(254 500 498)"><circle class="o" cx="500" cy="498" r="388" pathLength="360" transform="rotate(-.15 500 498)" stroke-dasharray="7.3 400"/><circle class="c" cx="500" cy="498" r="388" pathLength="360" stroke="#68ae7f" stroke-dasharray="7 400"/><circle class="b" cx="500" cy="498" r="402.5" pathLength="360" stroke-dasharray="7 400"/></g>
<g transform="rotate(345.12 500 498)"><use href="#t"/><text class="l">100</text></g>
<g transform="rotate(346.24 500 498)"><use href="#t"/><text class="l">200</text></g>
<g transform="rotate(347.36 500 498)"><use href="#t"/><text class="l">300</text></g>
<g transform="rotate(348.48 500 498)"><use href="#t"/><text class="l">400</text></g>
<g transform="rotate(349.60 500 498)"><use href="#t"/><text class="l">500</text></g>
<g transform="rotate(350.72 500 498)"><use href="#t"/><text class="l">600</text></g>
<text class="n" x="500" y="41" transform="rotate(347.5 500 498)">TcDm25_Chr31_H1_c2</text>
</g>

<g id="n30">
<g transform="rotate(262.2 500 498)"><circle class="o" cx="500" cy="498" r="388" pathLength="360" transform="rotate(-.15 500 498)" stroke-dasharray="6.7 400"/><circle class="c" cx="500" cy="498" r="388" pathLength="360" stroke="#9b89c0" stroke-dasharray="6.4 400"/><circle class="b" cx="500" cy="498" r="402.5" pathLength="360" stroke-dasharray="6.4 400"/></g>
<g transform="rotate(353.32 500 498)"><use href="#t"/><text class="l">100</text></g>
<g transform="rotate(354.44 500 498)"><use href="#t"/><text class="l">200</text></g>
<g transform="rotate(355.56 500 498)"><use href="#t"/><text class="l">300</text></g>
<g transform="rotate(356.68 500 498)"><use href="#t"/><text class="l">400</text></g>
<g transform="rotate(357.80 500 498)"><use href="#t"/><text class="l">500</text></g>
<text class="n" x="500" y="41" transform="rotate(355.4 500 498)">TcDm25_Chr25_c2</text>
</g>
</svg>
